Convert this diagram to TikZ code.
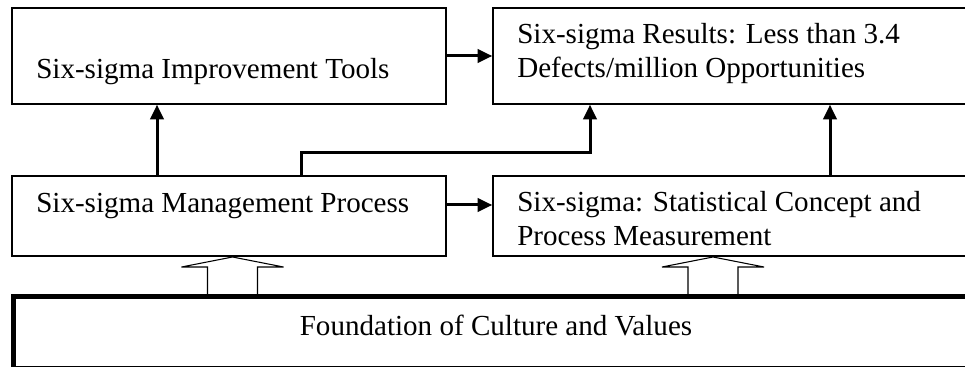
\documentclass[tikz,border=0pt]{standalone}
\usepackage{fontspec}
\setmainfont{Liberation Serif}
\usetikzlibrary{arrows.meta}

\begin{document}
\begin{tikzpicture}[x=0.75pt, y=-0.75pt, >={Triangle[length=11pt,width=10pt]},
  font=\fontsize{21.8}{25.5}\selectfont,
  sigmabox/.style={draw, line width=1.1pt, fill=white, inner sep=0pt},
  boxtext/.style={anchor=base west, inner sep=0pt, align=left},
  link/.style={->, line width=2.25pt},
  hollow/.style={draw, fill=white, line width=0.8pt, line join=miter}]

\useasboundingbox (0,0) rectangle (965,367);
\fill[white] (0,0) rectangle (965,367);
\clip (0,0) rectangle (965,367);

% boxes (right side runs past the page edge)
\node[sigmabox, minimum width=325.5pt, minimum height=72pt] (tools) at (229,56) {};
\node[sigmabox, minimum width=369pt, minimum height=72pt] (results) at (739,56) {};
\node[sigmabox, minimum width=325.5pt, minimum height=60pt] (mgmt) at (229,216) {};
\node[sigmabox, minimum width=369pt, minimum height=60pt] (stat) at (739,216) {};

% two-line texts sit on the baseline of their last line
\node[boxtext] (toolstext) at (36,79) {Six-sigma Improvement Tools};
\node[boxtext] (resultstext) at (517,78) {Six-sigma Results: Less than 3.4\\Defects/million Opportunities};
\node[boxtext] (mgmttext) at (36,213) {Six-sigma Management Process};
\node[boxtext] (stattext) at (517,246) {Six-sigma: Statistical Concept and\\Process Measurement};

% block arrows from the foundation
\foreach \cx in {232.5,713}
  \draw[hollow] (\cx-25,297) -- (\cx-25,267) -- (\cx-51,267) -- (\cx,257) -- (\cx+51,267) -- (\cx+25,267) -- (\cx+25,297);

\node[draw, line width=4pt, minimum width=740pt, minimum height=54pt, inner sep=0pt] (found) at (506.5,332.5) {};
\node[anchor=base, inner sep=0pt] (foundtext) at (496,335) {Foundation of Culture and Values};

% connectors
\draw[link] (tools.east) -- (results.west);
\draw[link] ([yshift=8.25pt]mgmt.east) -- ([yshift=8.25pt]stat.west);
\draw[link] ([xshift=-54pt]mgmt.north) -- ([xshift=-54pt]tools.south);
\draw[link] ([xshift=54pt]mgmt.north) -- ++(0,-23) -| ([xshift=-111.75pt]results.south);
\draw[link] ([xshift=68.25pt]stat.north) -- ([xshift=68.25pt]results.south);
\end{tikzpicture}
\end{document}
